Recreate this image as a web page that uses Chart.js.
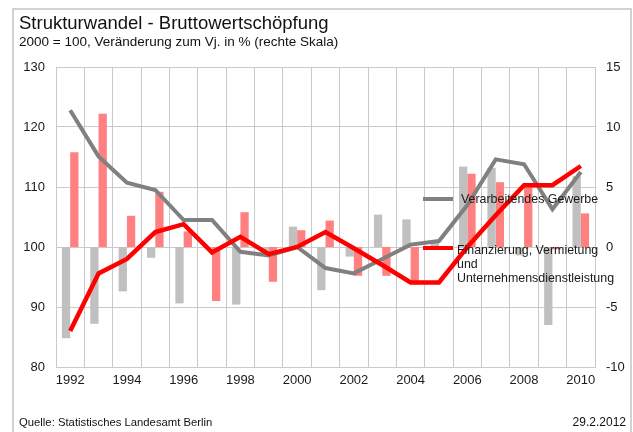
<!DOCTYPE html>
<html>
<head>
<meta charset="utf-8">
<script src="https://cdn.jsdelivr.net/npm/chart.js@4.4.1/dist/chart.umd.min.js"></script>
<style>
  html, body { margin: 0; padding: 0; background: #fff; }
  #wrap { width: 633px; height: 432px; }
</style>
</head>
<body>
<div id="wrap"><canvas id="bwsChart" width="633" height="432"></canvas></div>
<script>
// Jahre
const years = ["1992", "1993", "1994", "1995", "1996", "1997", "1998", "1999", "2000", "2001",
    "2002", "2003", "2004", "2005", "2006", "2007", "2008", "2009", "2010"];

// Index 2000 = 100 (linke Skala)
const indexGewerbe = [122.8, 115.1, 110.7, 109.5, 104.5, 104.5, 99.2, 98.6, 100, 96.5,
    95.6, 98.0, 100.4, 101.0, 107.0, 114.6, 113.8, 106.3, 112.5];
const indexFinanz = [86.0, 95.6, 98.0, 102.5, 103.8, 99.1, 101.7, 98.8, 100, 102.5,
    99.8, 97.0, 94.1, 94.1, 100.0, 105.3, 110.3, 110.3, 113.5];

// Veränderung zum Vorjahr in % (rechte Skala)
const changeGewerbe = [-7.6, -6.4, -3.7, -0.9, -4.7, 0, -4.8, -0.5, 1.7, -3.6,
    -0.8, 2.7, 2.3, 0.5, 6.7, 6.6, -0.7, -6.5, 5.9];
const changeFinanz = [7.9, 11.1, 2.6, 4.6, 1.3, -4.5, 2.9, -2.9, 1.4, 2.2,
    -2.4, -2.4, -3.0, 0, 6.1, 5.4, 5.2, -0.2, 2.8];

const leftTicks = { min: 80, max: 130, step: 10 };
const rightTicks = { min: -10, max: 15, step: 5 };

const FONT = "'Liberation Sans', Arial, sans-serif";
const GRID = "#cacaca";

document.addEventListener("DOMContentLoaded", function () {
    const ctx = document.getElementById("bwsChart").getContext("2d");

    Chart.defaults.font.family = FONT;
    Chart.defaults.font.size = 13;
    Chart.defaults.color = "#1a1a1a";

    // Rahmen, Titel und Quelle
    const frame = {
        id: "frame",
        beforeDraw(chart) {
            const c = chart.ctx;
            c.save();
            c.fillStyle = "#fff";
            c.fillRect(0, 0, chart.width, chart.height);
            c.strokeStyle = "#d2d2d2";
            c.lineWidth = 2;
            c.strokeRect(13, 9, 618, 440);
            c.fillStyle = "#111";
            c.textBaseline = "alphabetic";
            c.textAlign = "left";
            c.font = "18.5px " + FONT;
            c.fillText("Strukturwandel - Bruttowertschöpfung", 19, 29);
            c.font = "13.5px " + FONT;
            c.fillText("2000 = 100, Veränderung zum Vj. in % (rechte Skala)", 19, 46);
            c.font = "11.3px " + FONT;
            c.fillText("Quelle: Statistisches Landesamt Berlin", 19, 426);
            c.font = "12px " + FONT;
            c.textAlign = "right";
            c.fillText("29.2.2012", 626, 426);
            c.restore();
        }
    };

    // Legende im Diagramm
    const innerLegend = {
        id: "innerLegend",
        afterDatasetsDraw(chart) {
            const c = chart.ctx;
            const ds = chart.data.datasets;
            c.save();
            c.lineWidth = 4;
            c.font = "12.4px " + FONT;
            c.fillStyle = "#1a1a1a";
            c.textBaseline = "middle";
            c.textAlign = "left";

            c.strokeStyle = ds[0].borderColor;
            c.beginPath(); c.moveTo(423, 199); c.lineTo(453, 199); c.stroke();
            c.fillText(ds[0].label, 461, 200);

            c.strokeStyle = ds[1].borderColor;
            c.beginPath(); c.moveTo(423, 248); c.lineTo(453, 248); c.stroke();
            c.fillText("Finanzierung, Vermietung", 457, 251);
            c.fillText("und", 457, 265);
            c.fillText("Unternehmensdienstleistung", 457, 279);
            c.restore();
        }
    };

    new Chart(ctx, {
        data: {
            labels: years,
            datasets: [
                {
                    type: "line",
                    label: "Verarbeitendes Gewerbe",
                    data: indexGewerbe,
                    yAxisID: "y",
                    borderColor: "#808080",
                    borderWidth: 4,
                    pointRadius: 0,
                    tension: 0,
                    order: 1,
                },
                {
                    type: "line",
                    label: "Finanzierung, Vermietung und Unternehmensdienstleistung",
                    data: indexFinanz,
                    yAxisID: "y",
                    borderColor: "#ff0000",
                    borderWidth: 4.5,
                    pointRadius: 0,
                    tension: 0,
                    order: 0,
                },
                {
                    type: "bar",
                    label: "Verarbeitendes Gewerbe (Vj. %)",
                    data: changeGewerbe,
                    yAxisID: "y2",
                    backgroundColor: "#c0c0c0",
                    categoryPercentage: 0.585,
                    barPercentage: 1.0,
                    order: 2,
                },
                {
                    type: "bar",
                    label: "Finanzierung (Vj. %)",
                    data: changeFinanz,
                    yAxisID: "y2",
                    backgroundColor: "#ff8080",
                    categoryPercentage: 0.585,
                    barPercentage: 1.0,
                    order: 3,
                },
            ],
        },
        options: {
            responsive: false,
            animation: false,
            layout: { padding: { left: 13, right: 0, top: 67, bottom: 40 } },
            scales: {
                x: {
                    offset: true,
                    grid: { color: GRID, lineWidth: 1, offset: true, drawTicks: false },
                    border: { color: GRID },
                    ticks: {
                        autoSkip: false,
                        maxRotation: 0,
                        padding: 6,
                        callback: function (value, index) {
                            return index % 2 === 0 ? this.getLabelForValue(value) : "";
                        },
                    },
                    afterFit: (scale) => { scale.height = 25; },
                },
                y: {
                    position: "left",
                    min: leftTicks.min,
                    max: leftTicks.max,
                    ticks: { stepSize: leftTicks.step, padding: 11 },
                    grid: { color: GRID, lineWidth: 1, drawTicks: false },
                    border: { color: GRID },
                    afterFit: (scale) => { scale.width = 43; },
                },
                y2: {
                    position: "right",
                    min: rightTicks.min,
                    max: rightTicks.max,
                    ticks: { stepSize: rightTicks.step, padding: 11 },
                    grid: { display: false, drawTicks: false },
                    border: { color: GRID },
                    afterFit: (scale) => { scale.width = 38; },
                },
            },
            plugins: {
                legend: { display: false },
                tooltip: { enabled: false },
            },
        },
        plugins: [frame, innerLegend],
    });
});
</script>
</body>
</html>
